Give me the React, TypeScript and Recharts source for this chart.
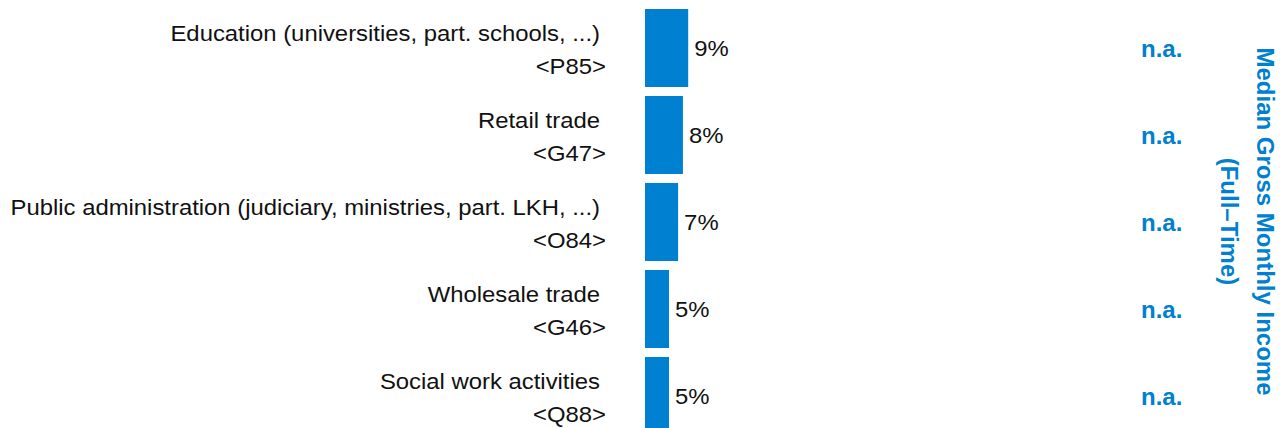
import { BarChart, Bar, XAxis, YAxis, LabelList, Customized } from "recharts";

const sectors = [
  "Education (universities, part. schools, ...)",
  "Retail trade",
  "Public administration (judiciary, ministries, part. LKH, ...)",
  "Wholesale trade",
  "Social work activities",
];
const codes = ["<P85>", "<G47>", "<O84>", "<G46>", "<Q88>"];
const shares = [9.0, 7.9, 6.9, 5.0, 5.0];
const medianIncome = ["n.a.", "n.a.", "n.a.", "n.a.", "n.a."];
const titleLines = ["Median Gross Monthly Income", "(Full\u2013Time)"];

const data = sectors.map((name, i) => ({
  name,
  code: codes[i],
  share: shares[i],
  income: medianIncome[i],
}));

const BLUE = "#0080D0";
const FONT = "'Liberation Sans', Arial, sans-serif";
// the original text is a touch wider than it is tall
const STRETCH = 1.085;

function SectorTick({ y, payload }: any) {
  const i = sectors.indexOf(payload.value);
  return (
    <g fontFamily={FONT} fontSize={22} fill="#111">
      <g transform={`translate(600 ${y - 7}) scale(${STRETCH} 1)`}>
        <text textAnchor="end">{payload.value}</text>
      </g>
      <g transform={`translate(606 ${y + 26}) scale(${STRETCH} 1)`}>
        <text textAnchor="end">{codes[i]}</text>
      </g>
    </g>
  );
}

function ValueLabel({ x, y, width, height, value, index }: any) {
  const cy = y + height / 2;
  return (
    <g fontFamily={FONT}>
      <g transform={`translate(${x + width + 6} ${cy + 8}) scale(${STRETCH} 1)`}>
        <text fontSize={22} fill="#111">
          {`${Math.round(value)}%`}
        </text>
      </g>
      <text x={1141} y={cy + 8.5} fontSize={24} fontWeight="bold" fill={BLUE}>
        {medianIncome[index]}
      </text>
    </g>
  );
}

function SideTitle() {
  return (
    <g fontFamily={FONT} fontSize={24} fontWeight="bold" fill={BLUE}>
      <text x={1257} y={221.5} textAnchor="middle" transform="rotate(90 1257 221.5)">
        {titleLines[0]}
      </text>
      <text x={1221} y={221.5} textAnchor="middle" transform="rotate(90 1221 221.5)">
        {titleLines[1]}
      </text>
    </g>
  );
}

export default function App() {
  return (
    <div
      style={{
        position: "absolute",
        top: 0,
        left: 0,
        width: 1284,
        height: 428,
        overflow: "hidden",
        background: "#fff",
      }}
    >
      <BarChart
        width={1284}
        height={440}
        data={data}
        layout="vertical"
        margin={{ top: 4, right: 159, bottom: 1, left: 0 }}
      >
        <XAxis type="number" domain={[0, 100]} hide />
        <YAxis
          type="category"
          dataKey="name"
          width={645}
          axisLine={false}
          tickLine={false}
          tick={<SectorTick />}
          interval={0}
        />
        <Bar dataKey="share" fill={BLUE} barSize={78} isAnimationActive={false}>
          <LabelList dataKey="share" content={<ValueLabel />} />
        </Bar>
        <Customized component={<SideTitle />} />
      </BarChart>
    </div>
  );
}
